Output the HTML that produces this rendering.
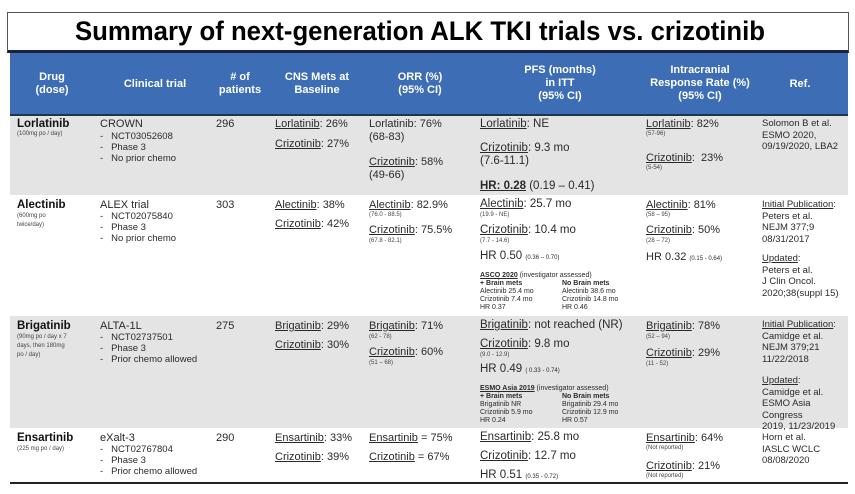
<!DOCTYPE html>
<html><head><meta charset="utf-8">
<style>
*{margin:0;padding:0;box-sizing:border-box}
body{width:855px;height:494px;background:#fff;position:relative;overflow:hidden;font-family:"Liberation Sans",Arial,sans-serif;color:#2a2a2a}
div,span.a{position:absolute;white-space:nowrap}
.b{font-size:11px;line-height:13px}
.p{font-size:11.5px;line-height:13px}
.l{font-size:9.5px;line-height:11px}
.r{font-size:9.5px;line-height:11.5px}
.s{font-size:6px;line-height:7px;color:#444}
.t{font-size:7px;line-height:8px}
.d{font-size:11.5px;font-weight:bold;line-height:13px;color:#111}
.hd{color:#fff;font-weight:bold;font-size:11px;line-height:13px;text-align:center}
.row{left:10px;width:838px}
</style></head><body>
<div style="left:7px;top:12px;width:842px;height:41px;border:1px solid #555;border-bottom:3px solid #1a2238;background:#fff"></div>
<svg style="position:absolute;left:0;top:0" width="855" height="52"><text x="75" y="40" textLength="690" lengthAdjust="spacingAndGlyphs" font-family="Liberation Sans, Arial, sans-serif" font-weight="bold" font-size="27" fill="#000">Summary of next-generation ALK TKI trials vs. crizotinib</text></svg>
<div class="row" style="top:53px;height:63px;background:#3c6db5;border-bottom:2px solid #1f3450"></div>
<div class="hd" style="left:12px;width:80px;top:71px">Drug<br>(dose)</div>
<div class="hd" style="left:105px;width:100px;top:78px">Clinical trial</div>
<div class="hd" style="left:210px;width:60px;top:71px"># of<br>patients</div>
<div class="hd" style="left:272px;width:90px;top:71px">CNS Mets at<br>Baseline</div>
<div class="hd" style="left:375px;width:90px;top:71px">ORR (%)<br>(95% CI)</div>
<div class="hd" style="left:505px;width:110px;top:64px">PFS (months)<br>in ITT<br>(95% CI)</div>
<div class="hd" style="left:640px;width:120px;top:64px">Intracranial<br>Response Rate (%)<br>(95% CI)</div>
<div class="hd" style="left:770px;width:60px;top:78px">Ref.</div>

<div class="row" style="top:116px;height:79px;background:#e4e4e4"></div>
<div class="row" style="top:195px;height:121px;background:#fff"></div>
<div class="row" style="top:316px;height:112px;background:#e4e4e4"></div>
<div class="row" style="top:428px;height:54px;background:#fff"></div>
<div style="left:10px;top:482px;width:838px;height:2px;background:#222"></div>

<!-- Row 1 -->
<div class="d" style="left:17px;top:118px">Lorlatinib</div>
<div class="s" style="left:17px;top:131px">(100mg po / day)</div>
<div class="b" style="left:100px;top:118px">CROWN</div>
<div class="l" style="left:100px;top:131px">-&nbsp;&nbsp;&nbsp;NCT03052608<br>-&nbsp;&nbsp;&nbsp;Phase 3<br>-&nbsp;&nbsp;&nbsp;No prior chemo</div>
<div class="b" style="left:216px;top:118px">296</div>
<div class="b" style="left:275px;top:118px"><u>Lorlatinib</u>: 26%</div>
<div class="b" style="left:275px;top:138px"><u>Crizotinib</u>: 27%</div>
<div class="b" style="left:369px;top:118px">Lorlatinib: 76%<br>(68-83)</div>
<div class="b" style="left:369px;top:156px"><u>Crizotinib</u>: 58%<br>(49-66)</div>
<div class="p" style="left:480px;top:118px"><u>Lorlatinib</u>: NE</div>
<div class="p" style="left:480px;top:142px"><u>Crizotinib</u>: 9.3 mo<br>(7.6-11.1)</div>
<div class="p" style="left:480px;top:180px"><b><u>HR: 0.28</u></b> (0.19 – 0.41)</div>
<div class="b" style="left:646px;top:118px"><u>Lorlatinib</u>: 82%</div>
<div class="s" style="left:646px;top:131px">(57-96)</div>
<div class="b" style="left:646px;top:152px"><u>Crizotinib</u>:&nbsp; 23%</div>
<div class="s" style="left:646px;top:165px">(5-54)</div>
<div class="r" style="left:762px;top:118px">Solomon B et al.<br>ESMO 2020,<br>09/19/2020, LBA2</div>

<!-- Row 2 -->
<div class="d" style="left:17px;top:199px">Alectinib</div>
<div class="s" style="left:17px;top:212px;line-height:9px">(600mg po<br>twice/day)</div>
<div class="b" style="left:100px;top:199px">ALEX trial</div>
<div class="l" style="left:100px;top:211px">-&nbsp;&nbsp;&nbsp;NCT02075840<br>-&nbsp;&nbsp;&nbsp;Phase 3<br>-&nbsp;&nbsp;&nbsp;No prior chemo</div>
<div class="b" style="left:216px;top:199px">303</div>
<div class="b" style="left:275px;top:199px"><u>Alectinib</u>: 38%</div>
<div class="b" style="left:275px;top:218px"><u>Crizotinib</u>: 42%</div>
<div class="b" style="left:369px;top:199px"><u>Alectinib</u>: 82.9%</div>
<div class="s" style="left:369px;top:212px">(76.0 - 88.5)</div>
<div class="b" style="left:369px;top:224px"><u>Crizotinib</u>: 75.5%</div>
<div class="s" style="left:369px;top:238px">(67.8 - 82.1)</div>
<div class="p" style="left:480px;top:198px"><u>Alectinib</u>: 25.7 mo</div>
<div class="s" style="left:480px;top:212px">(19.9 - NE)</div>
<div class="p" style="left:480px;top:224px"><u>Crizotinib</u>: 10.4 mo</div>
<div class="s" style="left:480px;top:238px">(7.7 - 14.6)</div>
<div class="p" style="left:480px;top:250px">HR 0.50 <span style="font-size:6px">(0.36 – 0.70)</span></div>
<div class="t" style="left:480px;top:272px"><b><u>ASCO 2020</u></b> (investigator assessed)<br><b>+ Brain mets</b><br>Alectinib 25.4 mo<br>Crizotinib 7.4 mo<br>HR 0.37</div>
<div class="t" style="left:562px;top:280px"><b>No Brain mets</b><br>Alectinib 38.6 mo<br>Crizotinib 14.8 mo<br>HR 0.46</div>
<div class="b" style="left:646px;top:199px"><u>Alectinib</u>: 81%</div>
<div class="s" style="left:646px;top:212px">(58 – 95)</div>
<div class="b" style="left:646px;top:224px"><u>Crizotinib</u>: 50%</div>
<div class="s" style="left:646px;top:238px">(28 – 72)</div>
<div class="b" style="left:646px;top:251px">HR 0.32 <span style="font-size:6px">(0.15 - 0.64)</span></div>
<div class="r" style="left:762px;top:199px"><u>Initial Publication</u>:<br>Peters et al.<br>NEJM 377;9<br>08/31/2017</div>
<div class="r" style="left:762px;top:253px"><u>Updated</u>:<br>Peters et al.<br>J Clin Oncol.<br>2020;38(suppl 15)</div>

<!-- Row 3 -->
<div class="d" style="left:17px;top:320px">Brigatinib</div>
<div class="s" style="left:17px;top:333px;line-height:9px">(90mg po / day x 7<br>days, then 180mg<br>po / day)</div>
<div class="b" style="left:100px;top:320px">ALTA-1L</div>
<div class="l" style="left:100px;top:332px">-&nbsp;&nbsp;&nbsp;NCT02737501<br>-&nbsp;&nbsp;&nbsp;Phase 3<br>-&nbsp;&nbsp;&nbsp;Prior chemo allowed</div>
<div class="b" style="left:216px;top:320px">275</div>
<div class="b" style="left:275px;top:320px"><u>Brigatinib</u>: 29%</div>
<div class="b" style="left:275px;top:339px"><u>Crizotinib</u>: 30%</div>
<div class="b" style="left:369px;top:320px"><u>Brigatinib</u>: 71%</div>
<div class="s" style="left:369px;top:334px">(62 - 78)</div>
<div class="b" style="left:369px;top:346px"><u>Crizotinib</u>: 60%</div>
<div class="s" style="left:369px;top:360px">(51 – 68)</div>
<div class="p" style="left:480px;top:319px"><u>Brigatinib</u>: not reached (NR)</div>
<div class="p" style="left:480px;top:338px"><u>Crizotinib</u>: 9.8 mo</div>
<div class="s" style="left:480px;top:352px">(9.0 - 12.9)</div>
<div class="p" style="left:480px;top:363px">HR 0.49 <span style="font-size:6px">( 0.33 - 0.74)</span></div>
<div class="t" style="left:480px;top:385px"><b><u>ESMO Asia 2019</u></b> (investigator assessed)<br><b>+ Brain mets</b><br>Brigatinib NR<br>Crizotinib 5.9 mo<br>HR 0.24</div>
<div class="t" style="left:562px;top:393px"><b>No Brain mets</b><br>Brigatinib 29.4 mo<br>Crizotinib 12.9 mo<br>HR 0.57</div>
<div class="b" style="left:646px;top:320px"><u>Brigatinib</u>: 78%</div>
<div class="s" style="left:646px;top:334px">(52 – 94)</div>
<div class="b" style="left:646px;top:347px"><u>Crizotinib</u>: 29%</div>
<div class="s" style="left:646px;top:361px">(11 - 52)</div>
<div class="r" style="left:762px;top:319px"><u>Initial Publication</u>:<br>Camidge et al.<br>NEJM 379;21<br>11/22/2018</div>
<div class="r" style="left:762px;top:375px"><u>Updated</u>:<br>Camidge et al.<br>ESMO Asia<br>Congress<br>2019, 11/23/2019</div>

<!-- Row 4 -->
<div class="d" style="left:17px;top:432px">Ensartinib</div>
<div class="s" style="left:17px;top:446px">(225 mg po / day)</div>
<div class="b" style="left:100px;top:432px">eXalt-3</div>
<div class="l" style="left:100px;top:444px">-&nbsp;&nbsp;&nbsp;NCT02767804<br>-&nbsp;&nbsp;&nbsp;Phase 3<br>-&nbsp;&nbsp;&nbsp;Prior chemo allowed</div>
<div class="b" style="left:216px;top:432px">290</div>
<div class="b" style="left:275px;top:432px"><u>Ensartinib</u>: 33%</div>
<div class="b" style="left:275px;top:451px"><u>Crizotinib</u>: 39%</div>
<div class="b" style="left:369px;top:432px"><u>Ensartinib</u> = 75%</div>
<div class="b" style="left:369px;top:451px"><u>Crizotinib</u> = 67%</div>
<div class="p" style="left:480px;top:431px"><u>Ensartinib</u>: 25.8 mo</div>
<div class="p" style="left:480px;top:450px"><u>Crizotinib</u>: 12.7 mo</div>
<div class="p" style="left:480px;top:469px">HR 0.51 <span style="font-size:6px">(0.35 - 0.72)</span></div>
<div class="b" style="left:646px;top:432px"><u>Ensartinib</u>: 64%</div>
<div class="s" style="left:646px;top:445px">(Not reported)</div>
<div class="b" style="left:646px;top:460px"><u>Crizotinib</u>: 21%</div>
<div class="s" style="left:646px;top:473px">(Not reported)</div>
<div class="r" style="left:762px;top:432px">Horn et al.<br>IASLC WCLC<br>08/08/2020</div>
</body></html>
